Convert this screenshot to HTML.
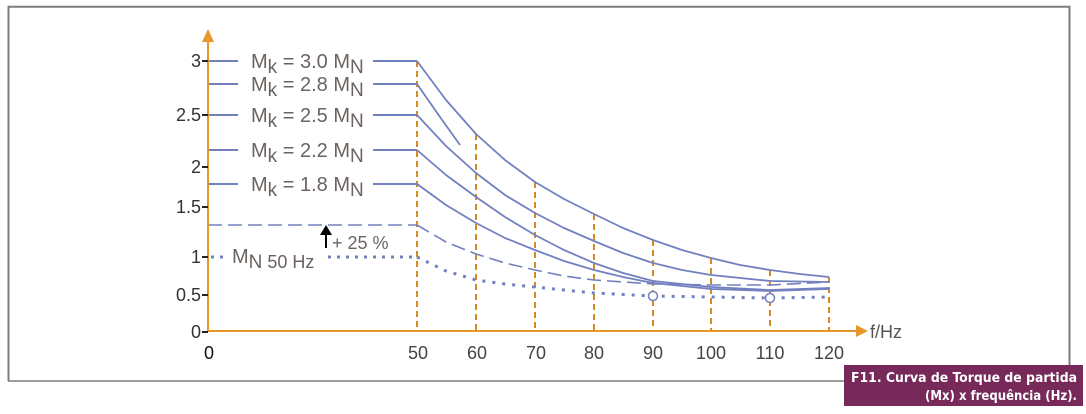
<!DOCTYPE html>
<html><head><meta charset="utf-8"><style>
html,body{margin:0;padding:0;background:#fff}
body{width:1086px;height:414px;overflow:hidden;position:relative}
svg{position:absolute;left:0;top:0}
</style></head><body>
<svg width="1086" height="414" viewBox="0 0 1086 414" font-family="Liberation Sans, sans-serif">
<polyline points="8.5,381 8.5,6.8 1069.5,6.8 1069.5,381" fill="none" stroke="#7d7d7d" stroke-width="2"/>
<line x1="8" y1="381" x2="850" y2="381" stroke="#7d7d7d" stroke-width="1.5"/>
<rect x="844" y="365" width="239" height="41" fill="#772a5a"/>
<text x="1077" y="382" text-anchor="end" font-size="13.5" font-weight="bold" fill="#fff" font-family="DejaVu Sans Condensed, DejaVu Sans, sans-serif" textLength="226" lengthAdjust="spacingAndGlyphs">F11. Curva de Torque de partida</text>
<text x="1077" y="400" text-anchor="end" font-size="13.5" font-weight="bold" fill="#fff" font-family="DejaVu Sans Condensed, DejaVu Sans, sans-serif" textLength="152" lengthAdjust="spacingAndGlyphs">(Mx) x frequência (Hz).</text>

<g stroke="#d98a1e" stroke-width="2" stroke-dasharray="6,4">
<line x1="417" y1="61" x2="417" y2="331"/>
<line x1="476" y1="134" x2="476" y2="331"/>
<line x1="535" y1="182" x2="535" y2="331"/>
<line x1="594" y1="214" x2="594" y2="331"/>
<line x1="653" y1="240" x2="653" y2="331"/>
<line x1="711" y1="258" x2="711" y2="331"/>
<line x1="770" y1="270" x2="770" y2="331"/>
<line x1="829" y1="277" x2="829" y2="331"/>
</g>

<g stroke="#7280c0" stroke-width="2" fill="none">
<line x1="208" y1="61" x2="417" y2="61"/>
<line x1="208" y1="84" x2="417" y2="84"/>
<line x1="208" y1="115" x2="417" y2="115"/>
<line x1="208" y1="150" x2="417" y2="150"/>
<line x1="208" y1="184" x2="417" y2="184"/>
<line x1="208" y1="225" x2="417" y2="225" stroke-dasharray="14,6" stroke-width="1.6"/>
<line x1="211" y1="257" x2="417" y2="257" stroke-dasharray="3,6" stroke-width="3"/>
</g>
<g stroke="#7280c0" stroke-width="1.8" fill="none" stroke-linejoin="round">
<polyline points="417,61 446,100 476,134 505,160 535,182 564,199 594,214 623,228 653,240 682,250 711,258 740,265 770,270 800,274 829,277"/>
<polyline points="417,84 440,117 460,145"/>
<polyline points="417,115 446,146 476,173 505,195 535,213 564,228 594,241 623,253 653,263 682,270 711,275 770,281 829,282"/>
<polyline points="417,150 446,175 476,197 505,217 535,235 564,250 594,263 623,273 653,281 711,287 770,290 829,288"/>
<polyline points="417,184 446,205 476,223 505,238 535,250 564,261 594,270 623,277 653,283 711,289 770,291 829,289"/>
<polyline points="417,225 446,242 476,254 505,263 535,270 564,276 594,280 653,284 711,285 770,285 829,282" stroke-dasharray="14,6" stroke-width="1.6"/>
<polyline points="417,257 446,271 476,280 505,284 535,287 564,290 594,293 653,296 711,297 770,298 829,297" stroke-dasharray="3,7" stroke-width="3"/>
</g>
<circle cx="653" cy="296" r="4.5" fill="#fff" stroke="#7280c0" stroke-width="1.5"/>
<circle cx="770" cy="298" r="4.5" fill="#fff" stroke="#7280c0" stroke-width="1.5"/>

<g font-size="20" fill="#6b6360">
<rect x="238" y="46" width="135" height="30" fill="#fff"/>
<text x="251" y="68">M<tspan font-size="19" dy="5">k</tspan><tspan dy="-5"> = 3.0 M</tspan><tspan font-size="19" dy="5">N</tspan></text>
<rect x="238" y="73" width="135" height="25" fill="#fff"/>
<text x="251" y="91">M<tspan font-size="19" dy="5">k</tspan><tspan dy="-5"> = 2.8 M</tspan><tspan font-size="19" dy="5">N</tspan></text>
<rect x="238" y="101" width="135" height="30" fill="#fff"/>
<text x="251" y="122">M<tspan font-size="19" dy="5">k</tspan><tspan dy="-5"> = 2.5 M</tspan><tspan font-size="19" dy="5">N</tspan></text>
<rect x="238" y="136" width="135" height="30" fill="#fff"/>
<text x="251" y="157">M<tspan font-size="19" dy="5">k</tspan><tspan dy="-5"> = 2.2 M</tspan><tspan font-size="19" dy="5">N</tspan></text>
<rect x="238" y="170" width="135" height="30" fill="#fff"/>
<text x="251" y="191">M<tspan font-size="19" dy="5">k</tspan><tspan dy="-5"> = 1.8 M</tspan><tspan font-size="19" dy="5">N</tspan></text>
<rect x="226" y="243" width="96" height="32" fill="#fff"/>
<text x="232" y="263">M<tspan font-size="19" dy="5">N</tspan><tspan font-size="18"> 50 Hz</tspan></text>
<text x="332" y="249" font-size="18">+ 25 %</text>
</g>
<line x1="326" y1="248" x2="326" y2="232" stroke="#000" stroke-width="2"/>
<polygon points="320,235 332,235 326,225" fill="#000"/>

<g stroke="#e8962a" stroke-width="2">
<line x1="208" y1="40" x2="208" y2="332"/>
<line x1="207" y1="331" x2="858" y2="331"/>
</g>
<polygon points="202,42 214,42 208,29" fill="#e8962a"/>
<polygon points="856,325 856,337 868,331" fill="#e8962a"/>
<g stroke="#222" stroke-width="2">
<line x1="202" y1="61" x2="208" y2="61"/><line x1="202" y1="115" x2="208" y2="115"/>
<line x1="202" y1="167" x2="208" y2="167"/><line x1="202" y1="207" x2="208" y2="207"/>
<line x1="202" y1="257" x2="208" y2="257"/><line x1="202" y1="295" x2="208" y2="295"/>
<line x1="202" y1="332" x2="208" y2="332"/>
</g>
<g font-size="18" fill="#333" text-anchor="end">
<text x="201" y="67">3</text><text x="201" y="121">2.5</text><text x="201" y="173">2</text>
<text x="201" y="213">1.5</text><text x="201" y="263">1</text><text x="201" y="301">0.5</text><text x="201" y="338">0</text>
</g>
<g font-size="18" fill="#444" text-anchor="middle">
<text x="209" y="359" fill="#111">0</text>
<text x="418" y="359">50</text><text x="477" y="359">60</text><text x="536" y="359">70</text>
<text x="594" y="359">80</text><text x="653" y="359">90</text><text x="711" y="359">100</text>
<text x="770" y="359">110</text><text x="829" y="359">120</text>
</g>
<text x="870" y="338" font-size="18" fill="#555">f/Hz</text>
</svg>
</body></html>
